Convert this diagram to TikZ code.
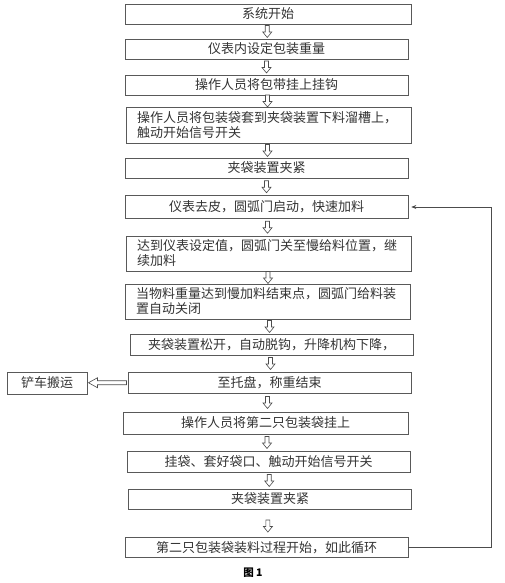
\documentclass[tikz,border=0pt]{standalone}
\usepackage{fontspec}
\newfontfamily\cjk{Noto Sans CJK SC}
\usetikzlibrary{arrows.meta}

\tikzset{
  box/.style={draw=black!65, line width=0.6pt, minimum width=283pt, minimum height=20pt,
    inner sep=0pt, font=\cjk\fontsize{13}{15}\selectfont, text=black!80},
  twobox/.style={box, align=left, text width=263pt, inner xsep=11pt, minimum height=35pt},
  hollow/.style={draw=black!70, fill=white, line width=0.6pt},
  pics/darrow/.style={code={
    \draw[hollow] (-2,-6) -- (2,-6) -- (2,0.5) -- (4.5,0.5) -- (0,6) -- (-4.5,0.5) -- (-2,0.5) -- cycle;}},
  pics/larrow/.style={code={
    \draw[hollow] (19,-2) -- (-10,-2) -- (-10,-5) -- (-19,0) -- (-10,5) -- (-10,2) -- (19,2) -- cycle;}},
  loopline/.style={draw=black!70, line width=0.6pt, -{Stealth[length=5pt,width=4pt]}, shorten >=3pt}
}

\begin{document}
\begin{tikzpicture}[x=1pt, y=-1pt]
  \useasboundingbox (0,0) rectangle (505,583);

  % main column
  \node[box, minimum width=286pt] (b1) at (268,14) {系统开始};
  \node[box] (b2) at (266.5,49) {仪表内设定包装重量};
  \node[box] (b3) at (266.5,85) {操作人员将包带挂上挂钩};
  \node[twobox, minimum height=36pt] (b4) at (268.5,125) {操作人员将包装袋套到夹袋装置下料溜槽上，\\触动开始信号开关};
  \node[box] (b5) at (266.5,168) {夹袋装置夹紧};
  \node[box, minimum height=23pt] (b6) at (266.5,207) {仪表去皮，圆弧门启动，快速加料};
  \node[twobox] (b7) at (268.5,253.5) {达到仪表设定值，圆弧门关至慢给料位置，继\\续加料};
  \node[twobox] (b8) at (267.5,301.5) {当物料重量达到慢加料结束点，圆弧门给料装\\置自动关闭};
  \node[box, minimum height=21pt] (b9) at (271.5,344.5) {夹袋装置松开，自动脱钩，升降机构下降，};
  \node[box, minimum height=21pt] (b10) at (269.5,382.5) {至托盘，称重结束};
  \node[box, minimum width=285pt, minimum height=22pt] (b11) at (265.5,423) {操作人员将第二只包装袋挂上};
  \node[box, minimum height=21pt] (b12) at (268.5,461.5) {挂袋、套好袋口、触动开始信号开关};
  \node[box] (b13) at (270,499) {夹袋装置夹紧};
  \node[box] (b14) at (266.5,547.5) {第二只包装袋装料过程开始，如此循环};

  \node[box, minimum width=80pt, minimum height=22pt] (truck) at (47,383) {铲车搬运};

  \node[font=\cjk\bfseries\fontsize{10.5}{12}\selectfont] (cap) at (253,573) {图 1};

  % hollow arrows
  \foreach \a/\b in {b1/b2, b2/b3, b3/b4, b4/b5, b5/b6, b6/b7, b7/b8, b8/b9, b9/b10, b10/b11, b11/b12, b12/b13}
    \path (\a.south) -- (\b.north) pic[pos=0.5] {darrow};
  \path (b13.south) -- (b14.north) pic[pos=0.6] {darrow};
  \path (b10.west) -- (truck.east) pic[pos=0.5] {larrow};

  % loop back
  \draw[loopline] (b14.east) -- ++(83,0) |- (b6.east);
\end{tikzpicture}
\end{document}
